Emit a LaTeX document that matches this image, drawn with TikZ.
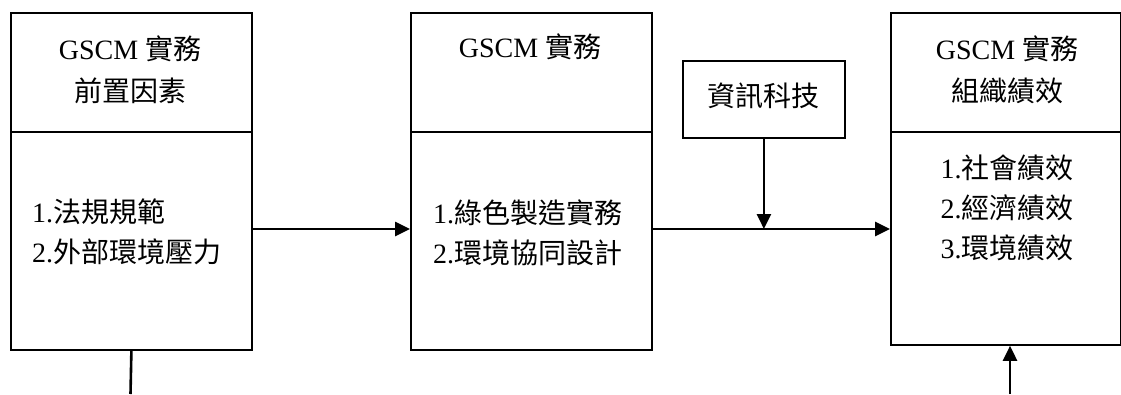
\documentclass[tikz,border=0pt]{standalone}
\usepackage{fontspec}
\setmainfont{Liberation Serif}
\newfontfamily\cjk{Noto Sans CJK TC}
\usetikzlibrary{arrows.meta}
\tikzset{
  panel/.style={draw, line width=1.8pt, rectangle, anchor=north west, inner sep=0pt},
  divider/.style={line width=1.8pt},
  link/.style={line width=2.6pt},
  arr/.style={link, -{Triangle[length=15pt,width=14pt]}},
  txt/.style={inner sep=0pt, font=\fontsize{28}{40}\selectfont}
}
\begin{document}
\begin{tikzpicture}[x=1pt,y=-1pt]
\useasboundingbox (0,0) rectangle (1121,394);
% boxes
\node[panel, minimum width=241pt, minimum height=337pt] (box1) at (10,12) {};
\node[panel, minimum width=241pt, minimum height=337pt] (box2) at (410,12) {};
\node[panel, minimum width=230pt, minimum height=332pt] (box3) at (890,12) {};
\node[panel, minimum width=162pt, minimum height=77pt] (it) at (682,60) {};
% dividers
\coordinate (dv) at (0,132);
\draw[divider] (box1.west |- dv) -- (box1.east |- dv);
\draw[divider] (box2.west |- dv) -- (box2.east |- dv);
\draw[divider] (box3.west |- dv) -- (box3.east |- dv);
% texts
\node[txt, align=center, text depth=0pt] (h1) at (130,69) {GSCM {\cjk 實務}\\[2pt]{\cjk 前置因素}};
\node[txt, align=left, anchor=west] (c1) at (32,232) {1.{\cjk 法規規範}\\2.{\cjk 外部環境壓力}};
\node[txt, align=center] (h2) at (530,47) {GSCM {\cjk 實務}};
\node[txt, align=left, anchor=west] (c2) at (433,233) {1.{\cjk 綠色製造實務}\\2.{\cjk 環境協同設計}};
\node[txt, align=center, text depth=0pt] (h3) at (1007,69) {GSCM {\cjk 實務}\\[2pt]{\cjk 組織績效}};
\node[txt, align=left] (c3) at (1007,208) {1.{\cjk 社會績效}\\2.{\cjk 經濟績效}\\3.{\cjk 環境績效}};
\node[txt] (itt) at (763,96) {\cjk 資訊科技};
% connectors
\coordinate (ya) at (0,229);
\coordinate (b1out) at (130.5,394);
\coordinate (b3in) at (1010,394);
\draw[arr] (box1.east |- ya) -- (box2.west |- ya);
\draw[arr] (box2.east |- ya) -- (box3.west |- ya);
\draw[arr] (it.south) -- (it.south |- ya);
\draw[link] (box1.south) -- (b1out);
\draw[arr] (b3in) -- (b3in |- box3.south);
\end{tikzpicture}
\end{document}
